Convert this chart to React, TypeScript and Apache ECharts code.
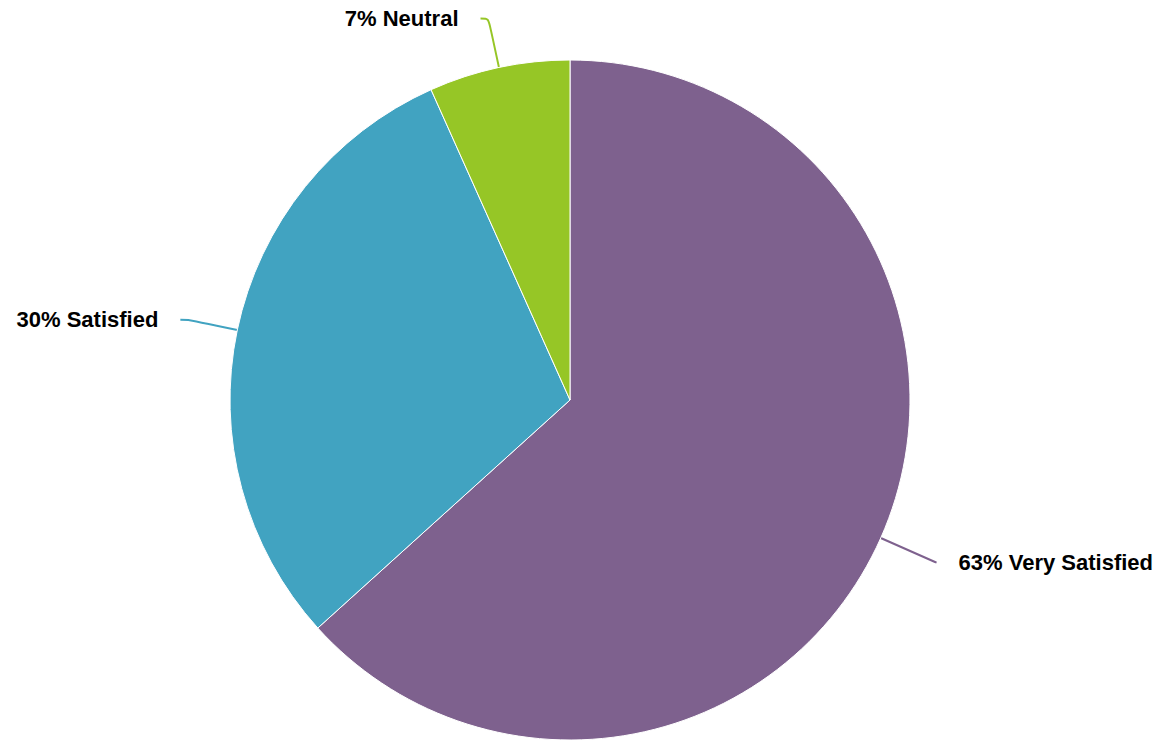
import React, { useEffect, useRef } from "react";
import * as echarts from "echarts";

const categories = ["Very Satisfied", "Satisfied", "Neutral"];
const values = [63.3, 30.0, 6.7];
const colors = ["#7E618E", "#41A3C1", "#96C626"];
const lineLengths = [60, 50, 50];
const lineLengths2 = [1, 8, 8];

export default function App() {
  const ref = useRef<HTMLDivElement>(null);
  useEffect(() => {
    const chart = echarts.init(ref.current!, undefined, { renderer: "svg" });
    chart.setOption({
      animation: false,
      series: [
        {
          type: "pie",
          center: [570, 400],
          radius: 340,
          startAngle: 90,
          clockwise: true,
          data: categories.map((c, i) => ({
            name: c,
            value: values[i],
            itemStyle: { color: colors[i] },
            labelLine: { length: lineLengths[i], length2: lineLengths2[i] },
          })),
          itemStyle: { borderColor: "#fff", borderWidth: 1 },
          label: {
            show: true,
            formatter: (p: any) => `${Math.round(p.value)}% ${p.name}`,
            fontFamily: "Liberation Sans, Arial, sans-serif",
            fontSize: 22,
            fontWeight: "bold",
            color: "#000",
            distanceToLabelLine: 22,
          },
          labelLine: {
            show: true,
            smooth: 0.3,
            lineStyle: { width: 2 },
          },
        },
      ],
    });
    return () => chart.dispose();
  }, []);
  return (
    <div
      ref={ref}
      style={{ position: "absolute", left: 0, top: 0, width: 1166, height: 740, background: "#fff" }}
    />
  );
}
